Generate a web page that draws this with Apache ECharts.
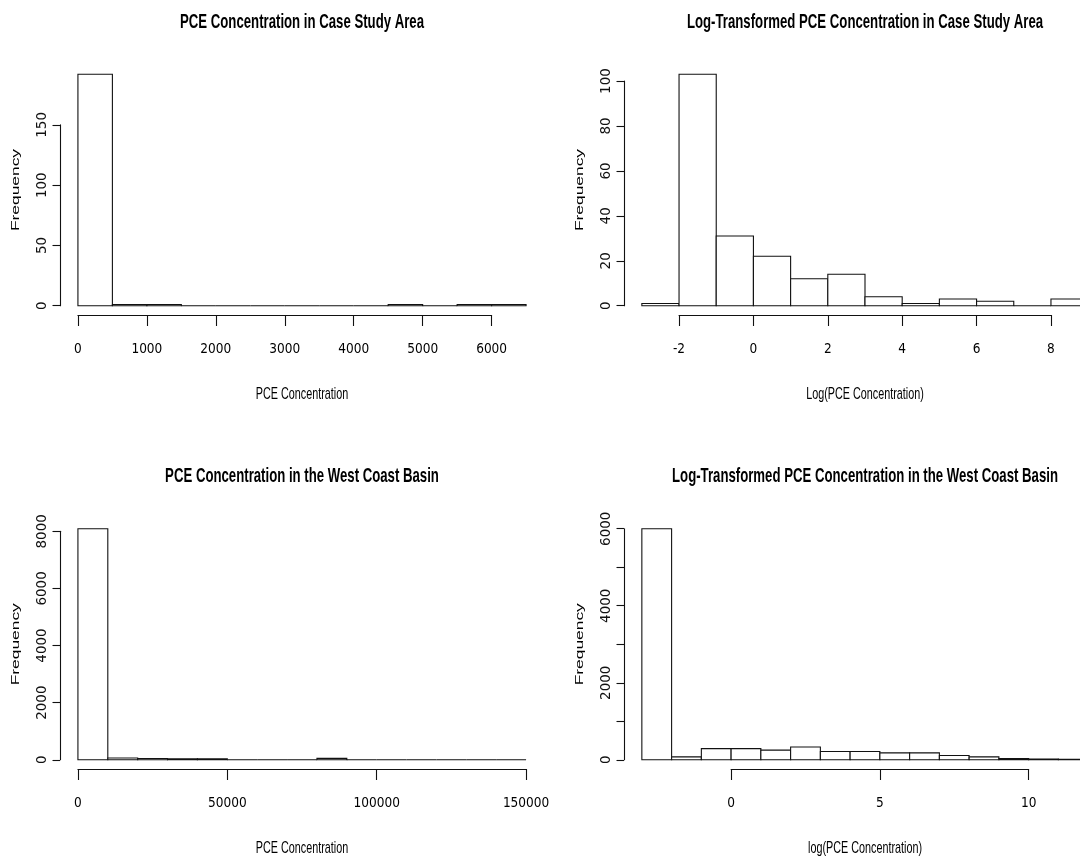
<!DOCTYPE html>
<html><head><meta charset="utf-8">
<script src="https://cdn.jsdelivr.net/npm/echarts@6/dist/echarts.min.js"></script>
<style>html,body{margin:0;padding:0;background:#fff}#c{width:1080px;height:858px}</style>
</head><body><div id="c"></div>
<script>
// ---------------- data ----------------
const caseTitle = 'PCE Concentration in Case Study Area';
const caseXName = 'PCE Concentration';
const caseEdges = [0,500,1000,1500,2000,2500,3000,3500,4000,4500,5000,5500,6000,6500];
const caseCounts = [192,1,1,0,0,0,0,0,0,1,0,1,1];
const caseXTicks = [0,1000,2000,3000,4000,5000,6000];
const caseYTicks = [0,50,100,150];
const caseYLabels = ['0','50','100','150'];

const caseLogTitle = 'Log-Transformed PCE Concentration in Case Study Area';
const caseLogXName = 'Log(PCE Concentration)';
const caseLogEdges = [-3,-2,-1,0,1,2,3,4,5,6,7,8,9];
const caseLogCounts = [1,103,31,22,12,14,4,1,3,2,0,3];
const caseLogXTicks = [-2,0,2,4,6,8];
const caseLogYTicks = [0,20,40,60,80,100];
const caseLogYLabels = ['0','20','40','60','80','100'];

const wcbTitle = 'PCE Concentration in the West Coast Basin';
const wcbXName = 'PCE Concentration';
const wcbEdges = [0,10000,20000,30000,40000,50000,60000,70000,80000,90000,100000,110000,120000,130000,140000,150000];
const wcbCounts = [8090,60,45,35,30,0,0,0,50,0,0,0,0,0,0];
const wcbXTicks = [0,50000,100000,150000];
const wcbYTicks = [0,2000,4000,6000,8000];
const wcbYLabels = ['0','2000','4000','6000','8000'];

const wcbLogTitle = 'Log-Transformed PCE Concentration in the West Coast Basin';
const wcbLogXName = 'log(PCE Concentration)';
const wcbLogEdges = [-3,-2,-1,0,1,2,3,4,5,6,7,8,9,10,11,12];
const wcbLogCounts = [6000,75,290,290,250,330,215,215,180,180,110,75,30,20,10];
const wcbLogXTicks = [0,5,10];
const wcbLogYTicks = [0,1000,2000,3000,4000,5000,6000];
const wcbLogYLabels = ['0','','2000','','4000','','6000'];

const yName = 'Frequency';

// ---------------- layout ----------------
const CANVAS_W = 1080;
const panels = [
  {title:caseTitle, xName:caseXName, edges:caseEdges, counts:caseCounts, xTicks:caseXTicks, yTicks:caseYTicks, yLabels:caseYLabels,
   box:{left:60, top:65, width:484, height:250}, titleY:22, xNameY:394},
  {title:caseLogTitle, xName:caseLogXName, edges:caseLogEdges, counts:caseLogCounts, xTicks:caseLogXTicks, yTicks:caseLogYTicks, yLabels:caseLogYLabels,
   box:{left:624, top:65, width:482, height:250}, titleY:22, xNameY:394},
  {title:wcbTitle, xName:wcbXName, edges:wcbEdges, counts:wcbCounts, xTicks:wcbXTicks, yTicks:wcbYTicks, yLabels:wcbYLabels,
   box:{left:60, top:519.5, width:484, height:249.5}, titleY:476, xNameY:848},
  {title:wcbLogTitle, xName:wcbLogXName, edges:wcbLogEdges, counts:wcbLogCounts, xTicks:wcbLogXTicks, yTicks:wcbLogYTicks, yLabels:wcbLogYLabels,
   box:{left:624, top:519.5, width:482, height:249.5}, titleY:476, xNameY:848}
];

const LINE = '#111';
const NARROW = '"Liberation Sans Narrow", "Arial Narrow", "DejaVu Sans Condensed", sans-serif';
const SANS = '"Liberation Sans", Arial, sans-serif';
const WIDE = '"DejaVu Sans", Verdana, sans-serif';

const grids = [], xAxes = [], yAxes = [], series = [], graphics = [];

function renderHist(params, api) {
  const x0 = api.value(0), x1 = api.value(1), c = api.value(2);
  const p0 = api.coord([x0, 0]);
  const p1 = api.coord([x1, c]);
  return {
    type: 'rect',
    shape: {x: p0[0], y: p1[1], width: p1[0] - p0[0], height: p0[1] - p1[1]},
    style: {fill: '#fff', stroke: LINE, lineWidth: 1.1}
  };
}

panels.forEach(function (p) {
  const lo = p.edges[0], hi = p.edges[p.edges.length - 1];
  const cmax = Math.max.apply(null, p.counts);
  const xr = [lo - 0.04 * (hi - lo), hi + 0.04 * (hi - lo)];
  const yr = [-0.04 * cmax, cmax * 1.04];
  const b = p.box;
  const sx = v => b.left + (v - xr[0]) / (xr[1] - xr[0]) * b.width;
  const sy = v => b.top + b.height - (v - yr[0]) / (yr[1] - yr[0]) * b.height;

  // visible part of the plot region (the reference is cropped at the right edge)
  const visW = Math.min(b.width, CANVAS_W - b.left);
  const xVisMax = xr[0] + visW / b.width * (xr[1] - xr[0]);

  // bars grid
  let gi = grids.length;
  grids.push({left: b.left, top: b.top, width: visW, height: b.height, containLabel: false});
  xAxes.push({gridIndex: gi, type: 'value', min: xr[0], max: xVisMax, show: false});
  yAxes.push({gridIndex: gi, type: 'value', min: yr[0], max: yr[1], show: false});
  series.push({
    type: 'custom', xAxisIndex: gi, yAxisIndex: gi, renderItem: renderHist,
    encode: {x: [0, 1], y: 2}, clip: true, silent: true,
    data: p.counts.map((c, i) => [p.edges[i], p.edges[i + 1], c])
  });

  // x axis grid
  const xt = p.xTicks;
  gi = grids.length;
  grids.push({left: sx(xt[0]), top: b.top + b.height - 1, width: sx(xt[xt.length - 1]) - sx(xt[0]), height: 1});
  xAxes.push({
    gridIndex: gi, type: 'value', position: 'bottom', min: xt[0], max: xt[xt.length - 1], interval: xt[1] - xt[0],
    splitLine: {show: false},
    axisLine: {show: true, onZero: false, lineStyle: {color: LINE, width: 1.1}},
    axisTick: {show: true, inside: false, length: 11, lineStyle: {color: LINE, width: 1.1}},
    axisLabel: {show: true, margin: 27, color: '#000', fontFamily: NARROW, fontSize: 13.5, formatter: v => String(v)}
  });
  yAxes.push({gridIndex: gi, type: 'value', min: 0, max: 1, show: false});

  // y axis grid
  const yt = p.yTicks;
  gi = grids.length;
  grids.push({left: b.left, top: sy(yt[yt.length - 1]), width: 1, height: sy(yt[0]) - sy(yt[yt.length - 1])});
  xAxes.push({gridIndex: gi, type: 'value', min: 0, max: 1, show: false});
  const labels = p.yLabels, ticks = p.yTicks;
  yAxes.push({
    gridIndex: gi, type: 'value', position: 'left', min: yt[0], max: yt[yt.length - 1], interval: yt[1] - yt[0],
    splitLine: {show: false},
    axisLine: {show: true, onZero: false, lineStyle: {color: LINE, width: 1.1}},
    axisTick: {show: true, inside: false, length: 7.5, lineStyle: {color: LINE, width: 1.1}},
    axisLabel: {show: true, rotate: 90, margin: 11, color: '#111', fontFamily: WIDE, fontSize: 13.5,
      formatter: v => { const k = ticks.indexOf(v); return k >= 0 ? labels[k] : ''; }}
  });

  // titles
  graphics.push({type: 'text', x: b.left + b.width / 2, y: p.titleY, scaleY: 1.55,
    style: {text: p.title, font: 'bold 13.2px ' + SANS, fill: '#000', textAlign: 'center', textVerticalAlign: 'middle'}});
  graphics.push({type: 'text', x: b.left + b.width / 2, y: p.xNameY, scaleY: 1.55,
    style: {text: p.xName, font: '10.8px ' + SANS, fill: '#000', textAlign: 'center', textVerticalAlign: 'middle'}});
  graphics.push({type: 'text', x: b.left - 44.5, y: b.top + b.height / 2, rotation: Math.PI / 2, scaleX: 1.58,
    style: {text: yName, font: '11px ' + SANS, fill: '#000', textAlign: 'center', textVerticalAlign: 'middle'}});
});

const chart = echarts.init(document.getElementById('c'), null, {renderer: 'canvas'});
chart.setOption({
  backgroundColor: '#fff',
  animation: false,
  grid: grids, xAxis: xAxes, yAxis: yAxes, series: series,
  graphic: {elements: graphics}
});
</script>
</body></html>
